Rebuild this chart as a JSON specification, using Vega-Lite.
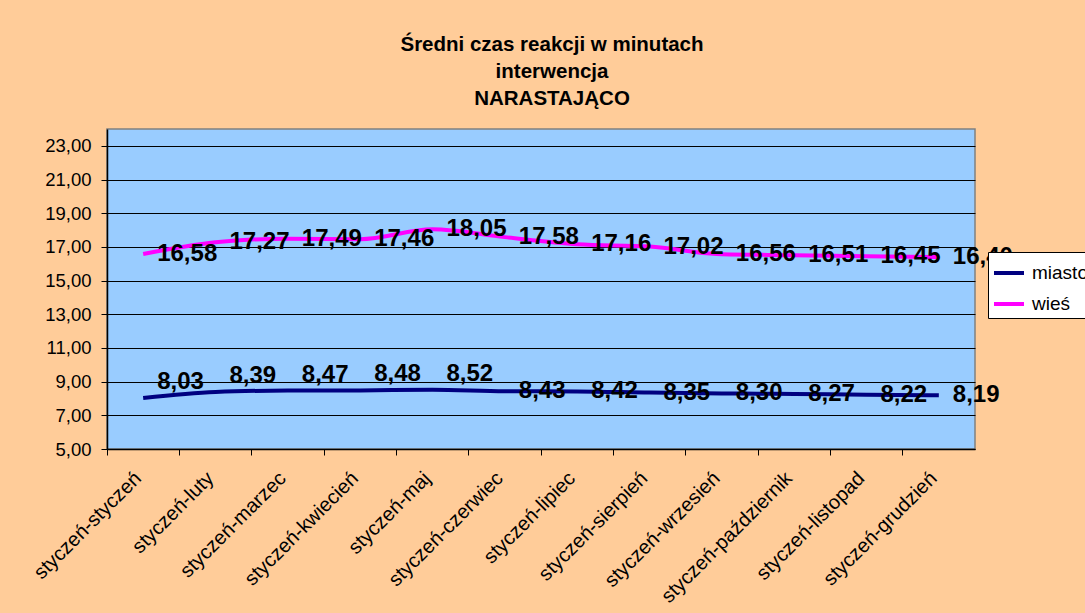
{
  "$schema": "https://vega.github.io/schema/vega-lite/v6.json",
  "autosize": {"type": "none"},
  "width": 868,
  "height": 320,
  "padding": {"left": 107, "top": 129, "right": 110, "bottom": 164},
  "background": "#FFCC99",
  "title": {
    "text": ["Średni czas reakcji w minutach", "interwencja", "NARASTAJĄCO"],
    "font": "Liberation Sans",
    "fontSize": 20.5,
    "fontWeight": "bold",
    "color": "#000000",
    "lineHeight": 27,
    "anchor": "middle",
    "dx": 11,
    "offset": 20
  },
  "config": {
    "locale": {"number": {"decimal": ",", "thousands": " ", "grouping": [3], "currency": ["", " zł"]}},
    "view": {"fill": "#99CCFF", "stroke": "#808080", "strokeWidth": 1.5},
    "font": "Liberation Sans"
  },
  "data": {
    "values": [
      {"okres": "styczeń-styczeń", "nr": 1, "seria": "miasto", "czas": 8.03},
      {"okres": "styczeń-luty", "nr": 2, "seria": "miasto", "czas": 8.39},
      {"okres": "styczeń-marzec", "nr": 3, "seria": "miasto", "czas": 8.47},
      {"okres": "styczeń-kwiecień", "nr": 4, "seria": "miasto", "czas": 8.48},
      {"okres": "styczeń-maj", "nr": 5, "seria": "miasto", "czas": 8.52},
      {"okres": "styczeń-czerwiec", "nr": 6, "seria": "miasto", "czas": 8.43},
      {"okres": "styczeń-lipiec", "nr": 7, "seria": "miasto", "czas": 8.42},
      {"okres": "styczeń-sierpień", "nr": 8, "seria": "miasto", "czas": 8.35},
      {"okres": "styczeń-wrzesień", "nr": 9, "seria": "miasto", "czas": 8.30},
      {"okres": "styczeń-październik", "nr": 10, "seria": "miasto", "czas": 8.27},
      {"okres": "styczeń-listopad", "nr": 11, "seria": "miasto", "czas": 8.22},
      {"okres": "styczeń-grudzień", "nr": 12, "seria": "miasto", "czas": 8.19},
      {"okres": "styczeń-styczeń", "nr": 1, "seria": "wieś", "czas": 16.58},
      {"okres": "styczeń-luty", "nr": 2, "seria": "wieś", "czas": 17.27},
      {"okres": "styczeń-marzec", "nr": 3, "seria": "wieś", "czas": 17.49},
      {"okres": "styczeń-kwiecień", "nr": 4, "seria": "wieś", "czas": 17.46},
      {"okres": "styczeń-maj", "nr": 5, "seria": "wieś", "czas": 18.05},
      {"okres": "styczeń-czerwiec", "nr": 6, "seria": "wieś", "czas": 17.58},
      {"okres": "styczeń-lipiec", "nr": 7, "seria": "wieś", "czas": 17.16},
      {"okres": "styczeń-sierpień", "nr": 8, "seria": "wieś", "czas": 17.02},
      {"okres": "styczeń-wrzesień", "nr": 9, "seria": "wieś", "czas": 16.56},
      {"okres": "styczeń-październik", "nr": 10, "seria": "wieś", "czas": 16.51},
      {"okres": "styczeń-listopad", "nr": 11, "seria": "wieś", "czas": 16.45},
      {"okres": "styczeń-grudzień", "nr": 12, "seria": "wieś", "czas": 16.40}
    ]
  },
  "encoding": {
    "x": {
      "field": "okres",
      "type": "ordinal",
      "sort": null,
      "scale": {"type": "band", "paddingInner": 0, "paddingOuter": 0},
      "axis": {
        "title": null,
        "bandPosition": 0,
        "labelOffset": -5,
        "labelAngle": -45,
        "labelAlign": "right",
        "labelBaseline": "middle",
        "labelPadding": 20,
        "labelFont": "Liberation Sans",
        "labelFontSize": 20,
        "labelColor": "#000000",
        "domainColor": "#000000",
        "domainWidth": 1.5,
        "tickColor": "#000000",
        "tickSize": 6,
        "grid": false
      }
    },
    "y": {
      "field": "czas",
      "type": "quantitative",
      "scale": {"domain": [5, 24], "nice": false, "zero": false},
      "axis": {
        "title": null,
        "values": [5, 7, 9, 11, 13, 15, 17, 19, 21, 23],
        "format": ".2f",
        "labelFont": "Liberation Sans",
        "labelFontSize": 18.5,
        "labelColor": "#000000",
        "labelPadding": 10,
        "domainColor": "#000000",
        "domainWidth": 1.5,
        "tickColor": "#000000",
        "tickSize": 6,
        "grid": true,
        "gridColor": "#000000",
        "gridWidth": 1.2,
        "gridOpacity": 1
      }
    }
  },
  "layer": [
    {
      "mark": {"type": "line", "strokeWidth": 4, "interpolate": "monotone"},
      "encoding": {
        "color": {
          "field": "seria",
          "type": "nominal",
          "scale": {"domain": ["miasto", "wieś"], "range": ["#000080", "#FF00FF"]},
          "legend": {
            "title": null,
            "orient": "none",
            "legendX": 881,
            "legendY": 123,
            "fillColor": "#FFFFFF",
            "strokeColor": "#000000",
            "padding": 4,
            "symbolType": "stroke",
            "symbolSize": 900,
            "symbolStrokeWidth": 4,
            "labelFont": "Liberation Sans",
            "labelFontSize": 19,
            "labelColor": "#000000",
            "rowPadding": 4,
            "labelOffset": 6
          }
        }
      }
    },
    {
      "transform": [{"filter": "!(datum.seria == 'miasto' && datum.nr <= 5)"}],
      "mark": {"type": "text", "align": "left", "baseline": "middle", "dx": 14, "font": "Liberation Sans", "fontSize": 24, "fontWeight": "bold", "color": "#000000"},
      "encoding": {"text": {"field": "czas", "type": "quantitative", "format": ".2f"}}
    },
    {
      "transform": [{"filter": "datum.seria == 'miasto' && datum.nr <= 5"}],
      "mark": {"type": "text", "align": "left", "baseline": "middle", "dx": 14, "dy": -16, "font": "Liberation Sans", "fontSize": 24, "fontWeight": "bold", "color": "#000000"},
      "encoding": {"text": {"field": "czas", "type": "quantitative", "format": ".2f"}}
    }
  ]
}
